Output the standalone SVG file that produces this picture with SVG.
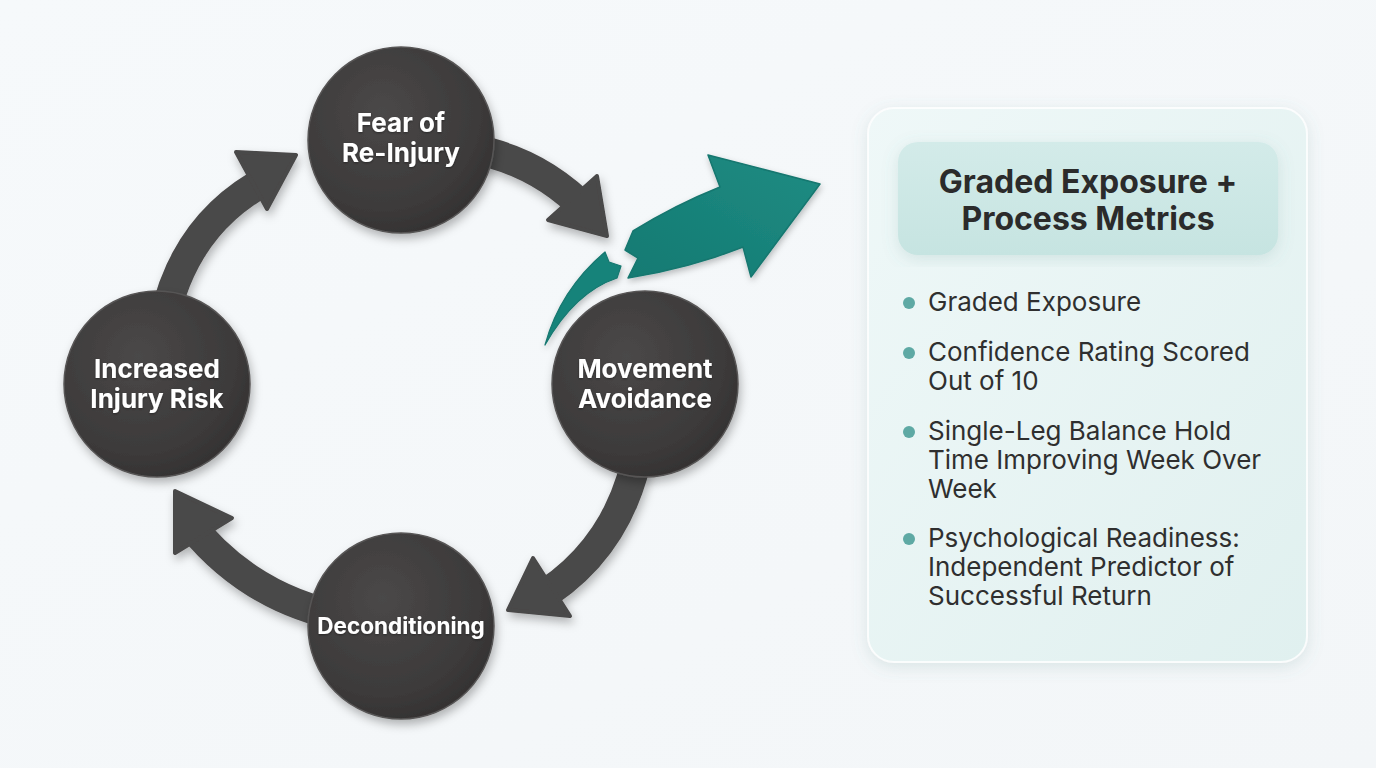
<svg xmlns="http://www.w3.org/2000/svg" width="1376" height="768" viewBox="0 0 1376 768">
<defs>
  <linearGradient id="bg" x1="0" y1="0" x2="1" y2="1">
    <stop offset="0" stop-color="#f6f9fb"/>
    <stop offset="1" stop-color="#f3f6f8"/>
  </linearGradient>
  <radialGradient id="ball" cx="0.4" cy="0.35" r="0.7">
    <stop offset="0" stop-color="#4a4848"/>
    <stop offset="0.75" stop-color="#3c3a3a"/>
    <stop offset="1" stop-color="#333131"/>
  </radialGradient>
  <linearGradient id="panelG" x1="0" y1="0" x2="1" y2="1">
    <stop offset="0" stop-color="#eff8f8"/>
    <stop offset="1" stop-color="#e0f0ef"/>
  </linearGradient>
  <linearGradient id="headG" x1="0" y1="0" x2="0" y2="1">
    <stop offset="0" stop-color="#d3ebe9"/>
    <stop offset="1" stop-color="#c6e4e1"/>
  </linearGradient>
  <linearGradient id="tealG" x1="0" y1="1" x2="1" y2="0">
    <stop offset="0" stop-color="#137a72"/>
    <stop offset="1" stop-color="#1f8c83"/>
  </linearGradient>
  <filter id="sh" x="-30%" y="-30%" width="160%" height="160%">
    <feDropShadow dx="2" dy="5" stdDeviation="5" flood-color="#000" flood-opacity="0.28"/>
  </filter>
  <filter id="shs" x="-30%" y="-30%" width="160%" height="160%">
    <feDropShadow dx="1" dy="3" stdDeviation="3" flood-color="#000" flood-opacity="0.25"/>
  </filter>
  <filter id="psh" x="-10%" y="-10%" width="120%" height="120%">
    <feDropShadow dx="0" dy="4" stdDeviation="8" flood-color="#5d8f8c" flood-opacity="0.18"/>
  </filter>
  <filter id="tsh" x="-10%" y="-10%" width="120%" height="130%">
    <feDropShadow dx="0" dy="1" stdDeviation="1" flood-color="#000" flood-opacity="0.4"/>
  </filter>
  <style>
    .ball { fill: url(#ball); stroke: #575555; stroke-width: 1.5; }
    .lbl { font-family: Inter, "Liberation Sans", sans-serif; font-weight: 700; font-size: 26px; fill: #ffffff; text-anchor: middle; }
    .shaft { fill: none; stroke: #4a4848; stroke-width: 30; stroke-linecap: butt; }
    .head { fill: #4a4848; stroke: #4a4848; stroke-width: 4; stroke-linejoin: round; }
    .title { font-family: Inter, "Liberation Sans", sans-serif; font-weight: 700; font-size: 32px; fill: #2b2b2b; text-anchor: middle; }
    .item { font-family: Inter, "Liberation Sans", sans-serif; font-size: 26px; fill: #2f2f2f; }
    .dot { fill: #5ea9a4; }
  </style>
</defs>
<rect width="1376" height="768" fill="url(#bg)"/>

<g id="connectors">
  <g filter="url(#sh)">
    <path class="shaft" d="M 478 150 Q 535 162 578 202"/>
    <polygon class="head" points="597,176 548,220 607,236"/>
  </g>
  <g filter="url(#sh)">
    <path class="shaft" d="M 636 462 Q 616 546 548 592"/>
    <polygon class="head" points="533,558 570,616 508,610"/>
  </g>
  <g filter="url(#sh)">
    <path class="shaft" d="M 322 612 Q 250 592 200 536"/>
    <polygon class="head" points="232,518 175,553 175,491"/>
  </g>
  <g filter="url(#sh)">
    <path class="shaft" d="M 168 304 Q 190 226 256 186"/>
    <polygon class="head" points="236,152 267,209 296,155"/>
  </g>
  <g id="breakthrough" filter="url(#shs)">
    <path fill="url(#tealG)" stroke="#14776f" stroke-width="1.5" stroke-linejoin="round" d="M 633 231 Q 675 205 720 187 L 708 155 L 820 184 L 751 277 L 743 247 Q 690 268 628 278 L 638 258 L 625 250 Z"/>
    <path fill="#17837a" stroke="#14776f" stroke-width="1.2" stroke-linejoin="round" d="M 545 345 Q 560 290 605 252 L 609 262 L 621 266 L 617 278 Q 575 292 545 345 Z"/>
  </g>
</g>

<g id="node-fear" filter="url(#sh)">
  <circle class="ball" cx="401" cy="140" r="93"/>
  <text class="lbl" x="401" y="132" filter="url(#tsh)">Fear of</text>
  <text class="lbl" x="401" y="162" filter="url(#tsh)">Re-Injury</text>
</g>
<g id="node-movement" filter="url(#sh)">
  <circle class="ball" cx="645" cy="384" r="93"/>
  <text class="lbl" x="645" y="378" filter="url(#tsh)">Movement</text>
  <text class="lbl" x="645" y="408" filter="url(#tsh)">Avoidance</text>
</g>
<g id="node-deconditioning" filter="url(#sh)">
  <circle class="ball" cx="401" cy="626" r="93"/>
  <text class="lbl" x="401" y="634" style="font-size:22.5px" filter="url(#tsh)">Deconditioning</text>
</g>
<g id="node-increased" filter="url(#sh)">
  <circle class="ball" cx="157" cy="384" r="93"/>
  <text class="lbl" x="157" y="378" filter="url(#tsh)">Increased</text>
  <text class="lbl" x="157" y="408" filter="url(#tsh)">Injury Risk</text>
</g>

<g id="panel">
  <rect x="868" y="108" width="439" height="554" rx="26" fill="url(#panelG)" stroke="#ffffff" stroke-opacity="0.8" stroke-width="2" filter="url(#psh)"/>
  <g id="panel-header">
    <rect x="898" y="142" width="380" height="113" rx="20" fill="url(#headG)" filter="url(#psh)"/>
    <text class="title" x="1088" y="193">Graded Exposure +</text>
    <text class="title" x="1088" y="230">Process Metrics</text>
  </g>
  <g id="panel-items">
    <circle class="dot" cx="909" cy="303" r="6"/>
    <text class="item" x="928" y="311">Graded Exposure</text>
    <circle class="dot" cx="909" cy="353" r="6"/>
    <text class="item" x="928" y="361">Confidence Rating Scored</text>
    <text class="item" x="928" y="390">Out of 10</text>
    <circle class="dot" cx="909" cy="432" r="6"/>
    <text class="item" x="928" y="440">Single-Leg Balance Hold</text>
    <text class="item" x="928" y="469">Time Improving Week Over</text>
    <text class="item" x="928" y="498">Week</text>
    <circle class="dot" cx="909" cy="539" r="6"/>
    <text class="item" x="928" y="547">Psychological Readiness:</text>
    <text class="item" x="928" y="576">Independent Predictor of</text>
    <text class="item" x="928" y="605">Successful Return</text>
  </g>
</g>
</svg>
